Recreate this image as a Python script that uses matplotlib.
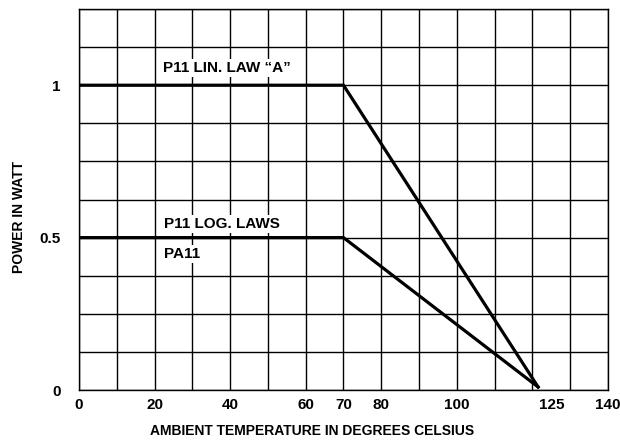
import numpy as np
import matplotlib
matplotlib.use('Agg')
import matplotlib.pyplot as plt

plt.rcParams['font.family'] = ['Liberation Sans', 'DejaVu Sans']
plt.rcParams['font.weight'] = 'bold'

# derating curves (temperature in C, power in W)
lin_temp = [0, 70, 121.5]
lin_power = [1.0, 1.0, 0.01]
log_temp = [0, 70, 121.5]
log_power = [0.5, 0.5, 0.01]

x_ticks = [0, 20, 40, 60, 70, 80, 100, 125, 140]
y_ticks = [0, 0.5, 1]
y_tick_labels = ['0', '0.5', '1']

fig = plt.figure(figsize=(6.2, 4.4), dpi=100)
ax = fig.add_axes([0.1274, 0.1136, 0.8532, 0.8659])

ax.set_xlim(0, 140)
ax.set_ylim(0, 1.25)
ax.set_xticks(x_ticks)
ax.set_xticks(np.arange(0, 141, 10), minor=True)
ax.set_yticks(y_ticks)
ax.set_yticklabels(y_tick_labels)
ax.set_yticks(np.arange(0, 1.26, 0.125), minor=True)
ax.xaxis.remove_overlapping_locs = False
ax.yaxis.remove_overlapping_locs = False
ax.grid(which='minor', color='black', linewidth=1.0)
ax.tick_params(which='both', length=0)
ax.tick_params(axis='x', pad=6, labelsize=11)
ax.tick_params(axis='y', pad=13, labelsize=11)
for s in ax.spines.values():
    s.set_linewidth(1.0)

ax.plot(lin_temp, lin_power, color='black', linewidth=2.3, solid_joinstyle='miter', zorder=3)
ax.plot(log_temp, log_power, color='black', linewidth=2.3, solid_joinstyle='miter', zorder=3)

box = dict(facecolor='white', edgecolor='none', pad=1.5)
ax.text(22.2, 1.056, 'P11 LIN. LAW \u201cA\u201d', fontsize=11, fontweight='bold',
        va='center', ha='left', bbox=box, zorder=4)
ax.text(22.6, 0.545, 'P11 LOG. LAWS', fontsize=11, fontweight='bold',
        va='center', ha='left', bbox=box, zorder=4)
ax.text(22.6, 0.446, 'PA11', fontsize=11, fontweight='bold',
        va='center', ha='left', bbox=box, zorder=4)

ax.set_xlabel('AMBIENT TEMPERATURE IN DEGREES CELSIUS', fontsize=10, fontweight='bold')
ax.xaxis.set_label_coords(0.44, -0.09)
ax.set_ylabel('POWER IN WATT', fontsize=10, fontweight='bold')
ax.yaxis.set_label_coords(-0.1, 0.455)

fig.savefig('out.png', dpi=100)
